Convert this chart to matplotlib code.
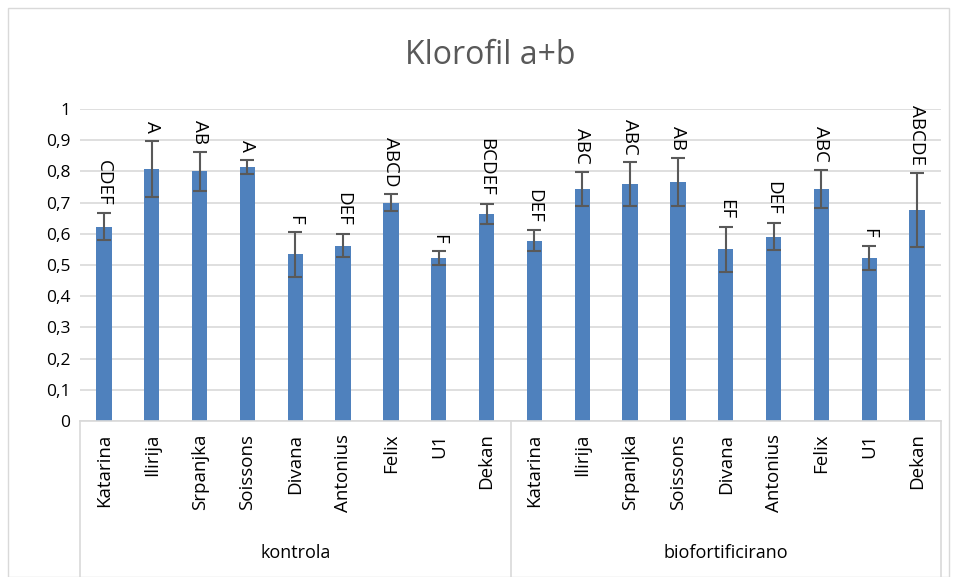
import numpy as np
import matplotlib
matplotlib.use("Agg")
import matplotlib.pyplot as plt
import matplotlib.transforms as mtransforms
from matplotlib.patches import Rectangle

plt.rcParams['font.family'] = ['Open Sans', 'DejaVu Sans']

# data
cultivars = ["Katarina", "Ilirija", "Srpanjka", "Soissons", "Divana",
             "Antonius", "Felix", "U1", "Dekan"]
groups = ["kontrola", "biofortificirano"]

kontrola_mean = [0.623, 0.808, 0.800, 0.815, 0.534, 0.562, 0.699, 0.522, 0.663]
kontrola_err = [0.043, 0.090, 0.063, 0.022, 0.071, 0.037, 0.027, 0.022, 0.033]
kontrola_letters = ["CDEF", "A", "AB", "A", "F", "DEF", "ABCD", "F", "BCDEF"]

bio_mean = [0.578, 0.744, 0.759, 0.766, 0.550, 0.591, 0.744, 0.523, 0.677]
bio_err = [0.033, 0.055, 0.070, 0.078, 0.071, 0.044, 0.060, 0.039, 0.119]
bio_letters = ["DEF", "ABC", "ABC", "AB", "EF", "DEF", "ABC", "F", "ABCDE"]

yticks = [0, 0.1, 0.2, 0.3, 0.4, 0.5, 0.6, 0.7, 0.8, 0.9, 1]

means = kontrola_mean + bio_mean
errs = kontrola_err + bio_err
letters = kontrola_letters + bio_letters
labels = cultivars + cultivars
x = np.arange(len(means))

fig = plt.figure(figsize=(9.57, 5.77), dpi=100)
ax = fig.add_axes([80 / 957, 1 - 421 / 577, (941 - 80) / 957, (421 - 109) / 577])

ax.bar(x, means, width=0.32, color="#4f81bd", zorder=2)
ax.errorbar(x, means, yerr=errs, fmt="none", ecolor="#595959",
            elinewidth=1.5, capsize=5, capthick=1.5, zorder=3)

# significance letters above the error bars
for xi, m, e, t in zip(x, means, errs, letters):
    ax.text(xi, m + e + 0.025, t, rotation=270, ha="center", va="bottom",
            fontsize=13.5, color="black")

ax.set_xlim(-0.5, len(means) - 0.5)
ax.set_ylim(0, 1)
ax.set_yticks(yticks)
ax.set_yticklabels([("%g" % v).replace(".", ",") for v in yticks], fontsize=12.5)
ax.set_xticks(x)
ax.set_xticklabels(labels, rotation=90, fontsize=13.5, va="top")
ax.tick_params(axis="both", length=0)
ax.tick_params(axis="x", pad=9)
ax.tick_params(axis="y", pad=7)

ax.grid(axis="y", color="#d9d9d9", linewidth=1.2, zorder=0)
ax.set_axisbelow(True)
for s in ["top", "right", "left"]:
    ax.spines[s].set_visible(False)
ax.spines["bottom"].set_color("#d9d9d9")
ax.spines["bottom"].set_linewidth(1.2)

# hierarchical category dividers and group labels
trans = mtransforms.blended_transform_factory(ax.transData, ax.transAxes)
for xd in [-0.5, 8.5, 17.5]:
    ax.plot([xd, xd], [0, -0.52], transform=trans, color="#d9d9d9",
            linewidth=1.2, clip_on=False)
ax.text(4, -0.423, groups[0], transform=trans, ha="center", va="center",
        fontsize=13)
ax.text(13, -0.423, groups[1], transform=trans, ha="center", va="center",
        fontsize=13)

fig.text(490 / 957, 1 - 55 / 577, "Klorofil a+b", ha="center", va="center",
         fontsize=23, color="#595959")

fig.patches.append(Rectangle((8 / 957, 0), 941 / 957, 1 - 8 / 577,
                             transform=fig.transFigure, fill=False,
                             edgecolor="#d9d9d9", linewidth=1))

fig.savefig("out.png", dpi=100)
